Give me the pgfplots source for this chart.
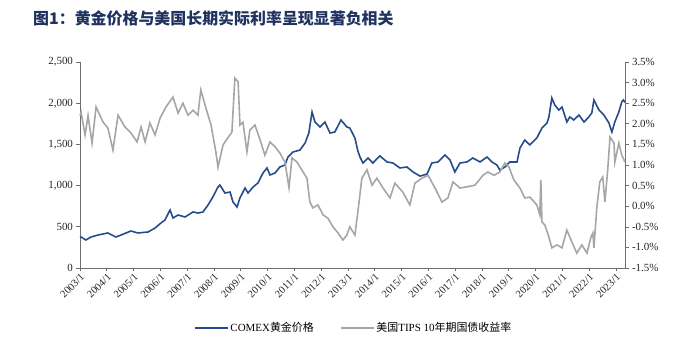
\documentclass[border=0pt]{standalone}
\usepackage{fontspec}
\setmainfont{Liberation Serif}
\newfontfamily\cjk{Noto Sans CJK SC}
\usepackage{pgfplots}
\pgfplotsset{compat=1.18}
\definecolor{goldblue}{RGB}{38,76,140}
\definecolor{tipsgray}{RGB}{166,166,166}
\definecolor{titleblue}{RGB}{31,50,96}
\definecolor{axgray}{RGB}{110,110,110}
\begin{document}
\begin{tikzpicture}
\path[use as bounding box] (-80bp,-91bp) rectangle (598bp,268bp);
\node[anchor=west,text=titleblue,font=\cjk\bfseries\fontsize{16}{18}\selectfont,inner sep=0pt] at (-47bp,250bp) {图1：黄金价格与美国长期实际利率呈现显著负相关};
\begin{axis}[
  scale only axis, width=545bp, height=206bp,
  xmin=0, xmax=20.34, ymin=0, ymax=2500,
  axis y line*=left, axis x line*=bottom,
  axis line style={axgray,line width=0.6bp,-},
  tick style={axgray,line width=0.6bp},
  tick align=outside, major tick length=3.5bp,
  xtick={0,...,20},
  xticklabels={2003/1,2004/1,2005/1,2006/1,2007/1,2008/1,2009/1,2010/1,2011/1,2012/1,2013/1,2014/1,2015/1,2016/1,2017/1,2018/1,2019/1,2020/1,2021/1,2022/1,2023/1},
  x tick label style={rotate=45,anchor=north east,inner sep=1bp,font=\fontsize{10.5}{11}\selectfont,text=black!85},
  ytick={0,500,1000,1500,2000,2500},
  y tick label style={font=\fontsize{11}{12}\selectfont,text=black!85},
  /pgf/number format/assume math mode=true,
  /pgf/number format/1000 sep={,},
  scaled y ticks=false,
  clip=false,
]
\addplot[goldblue,line width=1.6bp] coordinates {
(0.00,370)(0.04,376)(0.22,340)(0.41,376)(0.67,400)(1.04,425)(1.34,376)(1.53,400)(1.90,449)(2.16,425)(2.54,437)(2.80,485)(3.02,546)(3.17,582)(3.36,704)(3.47,607)(3.66,643)(3.92,619)(4.22,680)(4.40,667)(4.59,680)(4.78,765)(4.96,862)(5.15,983)(5.22,1007)(5.41,910)(5.60,922)(5.71,801)(5.86,740)(5.97,850)(6.16,971)(6.27,910)(6.46,983)(6.64,1031)(6.83,1153)(6.98,1214)(7.09,1129)(7.28,1153)(7.46,1226)(7.65,1250)(7.76,1347)(7.95,1408)(8.21,1432)(8.40,1517)(8.54,1638)(8.66,1893)(8.77,1772)(8.96,1711)(9.14,1772)(9.33,1638)(9.51,1650)(9.74,1796)(9.96,1711)(10.07,1699)(10.26,1578)(10.37,1420)(10.45,1347)(10.56,1274)(10.75,1335)(10.93,1274)(11.19,1360)(11.46,1287)(11.68,1274)(11.94,1214)(12.20,1226)(12.43,1165)(12.69,1115)(12.95,1140)(13.13,1274)(13.36,1287)(13.62,1371)(13.81,1311)(13.99,1165)(14.18,1274)(14.44,1287)(14.66,1335)(14.93,1287)(15.19,1347)(15.37,1287)(15.56,1250)(15.67,1189)(15.86,1226)(16.04,1287)(16.31,1287)(16.42,1456)(16.60,1553)(16.79,1493)(17.05,1578)(17.24,1699)(17.43,1760)(17.50,1833)(17.61,2063)(17.72,1978)(17.87,1917)(17.99,1954)(18.17,1772)(18.28,1833)(18.43,1796)(18.62,1857)(18.81,1772)(18.99,1833)(19.10,1881)(19.18,2039)(19.37,1917)(19.55,1857)(19.74,1760)(19.85,1650)(19.96,1772)(20.11,1893)(20.22,2015)(20.28,2039)(20.34,2010)
};
\end{axis}
\begin{axis}[
  scale only axis, width=545bp, height=206bp,
  xmin=0, xmax=20.34, ymin=-1.5, ymax=3.5,
  axis y line*=right, axis x line=none,
  axis line style={axgray,line width=0.6bp,-},
  tick style={axgray,line width=0.6bp},
  tick align=outside, major tick length=3.5bp,
  ytick={-1.5,-1,...,3.5},
  yticklabel={\pgfmathprintnumber[fixed,fixed zerofill,precision=1]{\tick}\%},
  y tick label style={font=\fontsize{11}{12}\selectfont,text=black!85},
  /pgf/number format/assume math mode=true,
  clip=false,
  legend columns=2,
  legend style={at={(axis description cs:0.502,-0.291)},anchor=center,draw=none,fill=none,
    font=\fontsize{11}{12}\selectfont,
    /tikz/every even column/.append style={column sep=24bp}},
  legend image code/.code={\draw[#1,line width=1.6bp] (0bp,0bp) -- (33bp,0bp);},
]
\addlegendimage{goldblue,line width=1.6bp}
\addlegendentry{COMEX{\cjk 黄金价格}}
\addplot[tipsgray,line width=1.6bp] coordinates {
(0.00,2.20)(0.04,2.28)(0.19,1.73)(0.30,2.20)(0.45,1.53)(0.60,2.41)(0.86,2.04)(1.04,1.90)(1.23,1.36)(1.42,2.21)(1.68,1.92)(1.90,1.78)(2.13,1.56)(2.28,1.92)(2.43,1.56)(2.61,2.02)(2.80,1.73)(2.99,2.14)(3.21,2.41)(3.47,2.65)(3.66,2.26)(3.84,2.50)(4.03,2.21)(4.22,2.33)(4.40,2.21)(4.51,2.82)(4.70,2.38)(4.89,1.97)(5.07,1.32)(5.15,0.95)(5.34,1.49)(5.52,1.66)(5.67,1.80)(5.78,3.11)(5.90,3.02)(5.97,1.97)(6.08,2.04)(6.23,1.32)(6.34,1.85)(6.53,1.97)(6.72,1.61)(6.90,1.24)(7.09,1.56)(7.28,1.44)(7.46,1.29)(7.65,1.07)(7.80,0.45)(7.91,1.17)(8.10,1.07)(8.28,0.88)(8.47,0.68)(8.58,0.10)(8.69,-0.04)(8.88,0.03)(9.07,-0.21)(9.25,-0.29)(9.44,-0.50)(9.63,-0.65)(9.81,-0.82)(9.96,-0.70)(10.07,-0.50)(10.26,-0.70)(10.37,-0.14)(10.52,0.68)(10.71,0.88)(10.90,0.51)(11.08,0.68)(11.31,0.44)(11.57,0.20)(11.75,0.56)(12.05,0.34)(12.31,0.03)(12.50,0.56)(12.76,0.68)(12.99,0.75)(13.25,0.44)(13.51,0.10)(13.73,0.20)(13.92,0.59)(14.18,0.44)(14.44,0.47)(14.74,0.51)(15.04,0.75)(15.22,0.83)(15.45,0.75)(15.67,0.83)(15.86,1.05)(16.01,0.95)(16.19,0.64)(16.42,0.44)(16.60,0.20)(16.79,0.22)(17.05,0.03)(17.16,-0.21)(17.20,0.64)(17.24,-0.38)(17.35,-0.46)(17.50,-0.75)(17.61,-1.01)(17.80,-0.94)(17.99,-1.01)(18.17,-0.58)(18.36,-0.87)(18.54,-1.14)(18.73,-0.94)(18.92,-1.14)(19.07,-0.75)(19.14,-0.65)(19.18,-1.01)(19.29,-0.02)(19.40,0.59)(19.51,0.71)(19.59,0.10)(19.70,0.93)(19.78,1.68)(19.93,1.53)(19.96,1.07)(20.11,1.53)(20.22,1.24)(20.34,1.07)
};
\addlegendentry{{\cjk 美国}TIPS 10{\cjk 年期国债收益率}}
\end{axis}
\end{tikzpicture}
\end{document}
